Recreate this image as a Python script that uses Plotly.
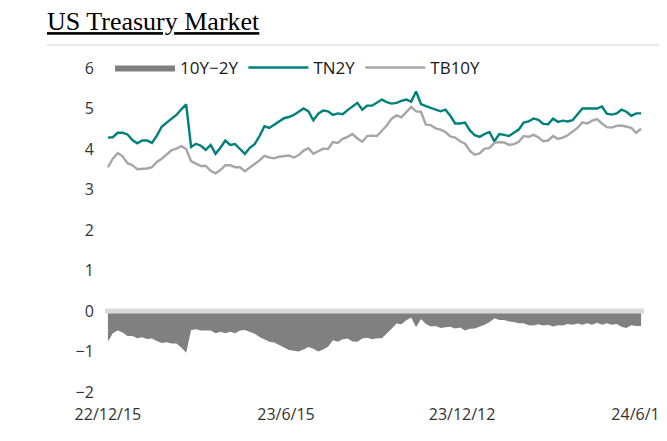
import pandas as pd
import plotly.graph_objects as go

# ---- data ----
start_date = "2022-12-15"
step = "5D"
n_points = 110

tn2y = [4.28, 4.29, 4.40, 4.40, 4.36, 4.22, 4.14, 4.21, 4.21, 4.15,
        4.33, 4.55, 4.65, 4.74, 4.84, 4.98, 5.10, 4.05, 4.13, 4.08,
        3.98, 4.10, 3.88, 4.03, 4.21, 4.10, 4.12, 4.00, 3.88, 4.03,
        4.12, 4.32, 4.56, 4.52, 4.60, 4.69, 4.76, 4.79, 4.84, 4.92,
        5.00, 4.93, 4.71, 4.87, 4.95, 4.93, 4.84, 4.88, 4.86, 4.96,
        5.04, 5.14, 4.97, 5.07, 5.07, 5.14, 5.22, 5.16, 5.12, 5.14,
        5.19, 5.22, 5.17, 5.42, 5.11, 5.06, 5.02, 4.98, 4.93, 4.97,
        4.82, 4.63, 4.63, 4.65, 4.46, 4.34, 4.30, 4.37, 4.42, 4.19,
        4.37, 4.35, 4.32, 4.40, 4.48, 4.65, 4.68, 4.75, 4.72, 4.62,
        4.61, 4.75, 4.67, 4.70, 4.68, 4.71, 4.85, 5.00, 5.00, 5.00,
        5.00, 5.05, 4.87, 4.85, 4.88, 4.97, 4.92, 4.82, 4.88, 4.88]

tb10y = [3.55, 3.76, 3.90, 3.82, 3.65, 3.60, 3.50, 3.51, 3.52, 3.55,
         3.68, 3.76, 3.86, 3.97, 4.01, 4.07, 4.00, 3.70, 3.64, 3.58,
         3.58, 3.46, 3.40, 3.48, 3.60, 3.60, 3.55, 3.55, 3.45, 3.53,
         3.63, 3.72, 3.83, 3.79, 3.77, 3.81, 3.82, 3.84, 3.79, 3.85,
         3.96, 4.02, 3.88, 3.94, 4.01, 4.00, 4.17, 4.15, 4.25, 4.30,
         4.37, 4.26, 4.18, 4.32, 4.33, 4.32, 4.45, 4.58, 4.75, 4.83,
         4.78, 4.92, 5.04, 4.93, 4.92, 4.60, 4.59, 4.51, 4.48, 4.42,
         4.31, 4.28, 4.19, 4.13, 3.95, 3.86, 3.89, 4.01, 4.02, 4.15,
         4.17, 4.16, 4.10, 4.12, 4.18, 4.32, 4.30, 4.35, 4.29, 4.19,
         4.21, 4.32, 4.25, 4.28, 4.34, 4.43, 4.52, 4.66, 4.63, 4.70,
         4.74, 4.63, 4.54, 4.53, 4.57, 4.58, 4.55, 4.52, 4.40, 4.50]

spread = [-0.75, -0.55, -0.48, -0.53, -0.62, -0.62, -0.67, -0.65, -0.69, -0.68,
          -0.74, -0.79, -0.77, -0.80, -0.80, -0.90, -1.03, -0.47, -0.45, -0.48,
          -0.48, -0.48, -0.55, -0.51, -0.55, -0.51, -0.55, -0.48, -0.47, -0.52,
          -0.56, -0.64, -0.70, -0.76, -0.78, -0.84, -0.88, -0.96, -0.98, -1.00,
          -0.95, -0.89, -0.93, -1.00, -0.95, -0.88, -0.72, -0.76, -0.70, -0.68,
          -0.75, -0.76, -0.68, -0.66, -0.70, -0.67, -0.67, -0.56, -0.44, -0.31,
          -0.33, -0.23, -0.16, -0.40, -0.20, -0.32, -0.38, -0.37, -0.42, -0.40,
          -0.39, -0.43, -0.41, -0.48, -0.44, -0.43, -0.39, -0.34, -0.28, -0.18,
          -0.22, -0.22, -0.26, -0.27, -0.30, -0.30, -0.35, -0.36, -0.33, -0.36,
          -0.34, -0.38, -0.35, -0.36, -0.32, -0.34, -0.31, -0.34, -0.30, -0.34,
          -0.29, -0.34, -0.30, -0.34, -0.32, -0.39, -0.42, -0.35, -0.37, -0.37]

tick_dates = ["2022-12-15", "2023-06-15", "2023-12-12", "2024-06-11"]
tick_labels = ["22/12/15", "23/6/15", "23/12/12", "24/6/11"]
y_ticks = [-2, -1, 0, 1, 2, 3, 4, 5, 6]

dates = pd.date_range(start_date, periods=n_points, freq=step)

TEAL = "#00807b"
LIGHT = "#a6a6a6"
DARK = "#808080"
FONT = "Open Sans"

# page body has an 8px margin; the figure is sized to fit the window
W, H = 659, 433

fig = go.Figure()
fig.add_trace(go.Scatter(
    x=dates, y=spread, name="10Y\u22122Y", mode="lines",
    line=dict(width=0, color=DARK), fill="tozeroy", fillcolor=DARK,
))
fig.add_trace(go.Scatter(
    x=dates, y=tn2y, name="TN2Y", mode="lines",
    line=dict(width=2.4, color=TEAL),
))
fig.add_trace(go.Scatter(
    x=dates, y=tb10y, name="TB10Y", mode="lines",
    line=dict(width=2.4, color=LIGHT),
))

# zero baseline band
fig.add_shape(type="line", xref="x domain", x0=0, x1=1, yref="y", y0=0, y1=0,
              line=dict(color="#d9d9d9", width=5), layer="above")
# separator line under the title
fig.add_shape(type="line", xref="paper", x0=-0.1076, x1=1.06, yref="paper",
              y0=1.0713, y1=1.0713, line=dict(color="#e0e0e0", width=1.5))

fig.update_layout(
    width=W, height=H,
    template="none",
    paper_bgcolor="white", plot_bgcolor="white",
    margin=dict(l=97, r=23, t=60, b=49),
    title=dict(text="<u>US Treasury Market</u>", xref="container", yref="container",
               x=39 / W, xanchor="left", y=1 - 13 / H, yanchor="middle",
               font=dict(family="Liberation Serif", size=26, color="#000000")),
    showlegend=True,
    legend=dict(orientation="h", x=0.0093, xanchor="left", y=1.0, yanchor="middle",
                bgcolor="rgba(0,0,0,0)", font=dict(family=FONT, size=17, color="#1a1a1a"),
                itemwidth=60, traceorder="normal"),
    xaxis=dict(type="date", range=["2022-12-12", "2024-06-15"],
               tickmode="array", tickvals=tick_dates, ticktext=tick_labels,
               showgrid=False, zeroline=False, showline=False,
               ticks="outside", ticklen=8, tickcolor="rgba(0,0,0,0)",
               ticklabeloverflow="allow",
               automargin=False,
               tickfont=dict(family=FONT, size=16, color="#333333")),
    yaxis=dict(range=[-2, 6], tickmode="array", tickvals=y_ticks,
               showgrid=False, zeroline=False, showline=False,
               ticks="outside", ticklen=7, tickcolor="rgba(0,0,0,0)",
               automargin=False,
               tickfont=dict(family=FONT, size=16, color="#333333")),
)

fig.write_html("out.html")
